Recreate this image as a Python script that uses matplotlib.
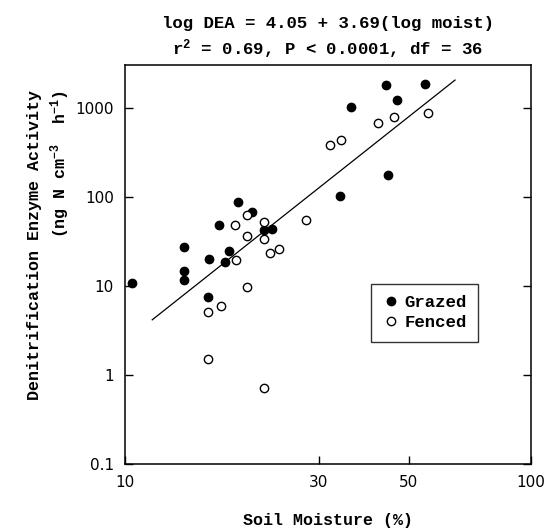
import numpy as np
import matplotlib
matplotlib.use("Agg")
import matplotlib.pyplot as plt

# Data
grazed_moist = [10.4, 14.0, 14.0, 14.0, 19.0, 20.5, 17.0, 18.0, 16.1, 17.6,
                22.0, 23.0, 16.0, 44.0, 54.9, 46.7, 36.0, 44.4, 33.9]
grazed_dea = [10.7, 27.2, 14.5, 11.7, 87, 66.6, 48.1, 24.7, 19.8, 18.5,
              41.9, 43.4, 7.5, 1799, 1828, 1208, 1018, 175, 102]

fenced_moist = [18.7, 20.0, 20.0, 22.0, 22.0, 18.8, 22.7, 23.9, 27.9, 20.0,
                17.2, 16.0, 16.0, 22.0, 55.7, 46.1, 42.0, 34.0, 32.0]
fenced_dea = [48.1, 62.3, 35.8, 51.4, 33.5, 19.4, 23.3, 25.8, 55.2, 9.75,
              6.0, 5.06, 1.50, 0.71, 872, 786, 667, 437, 378]

# regression line as drawn (log-log)
fit_intercept = -3.231
fit_slope = 3.607
fit_range = [11.67, 65.0]

xticks = [10, 30, 50, 100]
yticks = [0.1, 1, 10, 100, 1000]
ytick_labels = ["0.1", "1", "10", "100", "1000"]

mono = "Liberation Mono"
plt.rcParams["mathtext.fontset"] = "custom"
plt.rcParams["mathtext.rm"] = mono + ":bold"
plt.rcParams["mathtext.bf"] = mono + ":bold"
plt.rcParams["mathtext.default"] = "bf"

W, H = 554, 530
fig = plt.figure(figsize=(W / 100, H / 100), dpi=100)
ax = fig.add_axes([125 / W, (H - 464) / H, 406 / W, 399 / H])

ax.plot(grazed_moist, grazed_dea, "o", color="black", markersize=6,
        linestyle="none", label="Grazed")
ax.plot(fenced_moist, fenced_dea, "o", markerfacecolor="white",
        markeredgecolor="black", markeredgewidth=1.0, markersize=6,
        linestyle="none", label="Fenced")

xl = np.array(fit_range)
ax.plot(xl, 10 ** (fit_intercept + fit_slope * np.log10(xl)), color="black", lw=0.9)

ax.set_xscale("log")
ax.set_yscale("log")
ax.set_xlim(10, 100)
ax.set_ylim(0.1, 3000)
ax.set_xticks(xticks)
ax.set_xticklabels([str(t) for t in xticks])
ax.set_yticks(yticks)
ax.set_yticklabels(ytick_labels)
ax.minorticks_off()
ax.tick_params(axis="both", direction="in", length=6, width=1.0,
               labelsize=11, pad=8)
ax.tick_params(axis="y", right=True)
for lab in ax.get_xticklabels() + ax.get_yticklabels():
    lab.set_family("DejaVu Sans")
for s in ax.spines.values():
    s.set_linewidth(1.1)

leg = ax.legend(loc="lower left", bbox_to_anchor=(0.605, 0.3065),
                prop={"family": mono, "weight": "bold", "size": 12.5},
                frameon=True, fancybox=False, edgecolor="black",
                handletextpad=0.3, handlelength=1.0, borderpad=0.65,
                labelspacing=0.3, borderaxespad=0)
leg.get_frame().set_linewidth(1.0)

tkw = dict(family=mono, weight="bold", size=12.5, ha="center")
fig.text(328 / W, 1 - 28 / H, "log DEA = 4.05 + 3.69(log moist)", va="baseline", **tkw)
fig.text(328 / W, 1 - 55 / H, "r$^{2}$ = 0.69, P < 0.0001, df = 36", va="baseline", **tkw)
tkw["size"] = 12
fig.text(328 / W, 1 - 521 / H, "Soil Moisture (%)", va="center", **tkw)
fig.text(35 / W, 1 - 245 / H, "Denitrification Enzyme Activity", va="center",
         rotation=90, **tkw)
fig.text(60 / W, 1 - 90 / H, "(ng N cm$^{-3}$  h$^{-1}$)", va="top",
         rotation=90, **tkw)

fig.savefig("out.png", dpi=100)
